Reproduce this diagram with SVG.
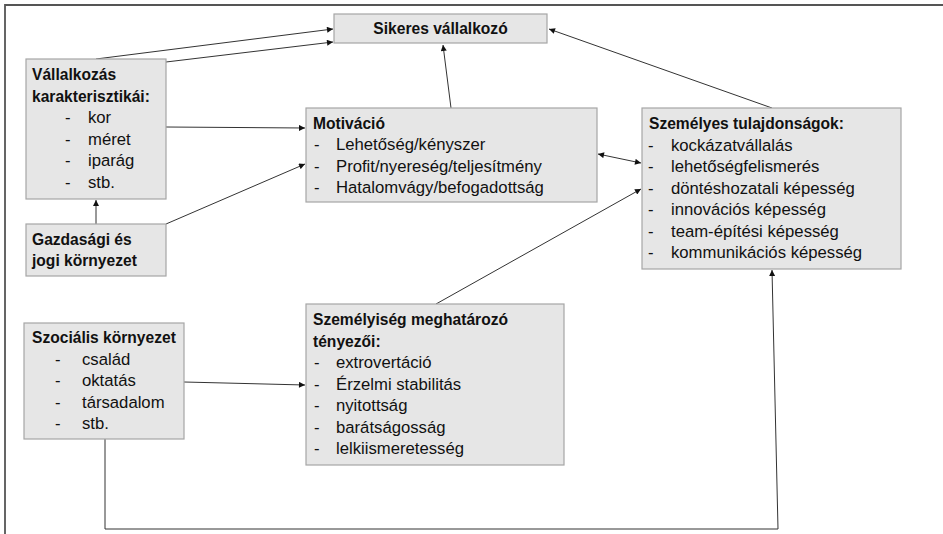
<svg xmlns="http://www.w3.org/2000/svg" width="943" height="534" viewBox="0 0 943 534">
<style>
.box{fill:#e6e6e6;stroke:#a6a6a6;stroke-width:1.2}
text{font-family:"Liberation Sans",Arial,sans-serif;fill:#111}
.h{font-weight:bold;font-size:15.6px}
.t{font-size:16.7px}
.c{fill:none;stroke:#333;stroke-width:1}
</style>
<defs>
<marker id="ar" viewBox="0 0 10 10" refX="10" refY="5" markerWidth="7" markerHeight="6" orient="auto" markerUnits="userSpaceOnUse">
<path d="M0,0 L10,5 L0,10 z" fill="#111"/>
</marker>
<marker id="as" viewBox="0 0 10 10" refX="0" refY="5" markerWidth="7" markerHeight="6" orient="auto" markerUnits="userSpaceOnUse">
<path d="M10,0 L0,5 L10,10 z" fill="#111"/>
</marker>
</defs>
<rect width="943" height="534" fill="#fff"/>
<path d="M5,534 V5 H943" fill="none" stroke="#555" stroke-width="1.8"/>

<g id="connectors">
<line class="c" x1="96" y1="59" x2="333" y2="29" marker-end="url(#ar)"/>
<line class="c" x1="166" y1="62" x2="333" y2="42" marker-end="url(#ar)"/>
<line class="c" x1="166" y1="127" x2="305" y2="128" marker-end="url(#ar)"/>
<line class="c" x1="166" y1="224" x2="305" y2="164" marker-end="url(#ar)"/>
<line class="c" x1="96" y1="224" x2="96" y2="200" marker-end="url(#ar)"/>
<line class="c" x1="451" y1="108" x2="443" y2="45" marker-end="url(#ar)"/>
<line class="c" x1="772" y1="108" x2="549" y2="29" marker-end="url(#ar)"/>
<line class="c" x1="598" y1="154" x2="641" y2="163" marker-start="url(#as)" marker-end="url(#ar)"/>
<line class="c" x1="436" y1="304" x2="641" y2="189" marker-end="url(#ar)"/>
<line class="c" x1="184" y1="382" x2="305" y2="385" marker-end="url(#ar)"/>
<polyline class="c" points="105,439 105,529 778,529 772,270" marker-end="url(#ar)"/>
</g>

<g id="sikeres">
<rect class="box" x="334" y="14" width="213" height="29"/>
<text class="h" x="440.5" y="34" text-anchor="middle">Sikeres vállalkozó</text>
</g>

<g id="vallalkozas">
<rect class="box" x="26" y="59" width="140" height="140"/>
<text class="h" x="32" y="80">Vállalkozás</text>
<text class="h" x="32" y="102">karakterisztikái:</text>
<text class="t" x="65" y="123">-</text><text class="t" x="88" y="123">kor</text>
<text class="t" x="65" y="145">-</text><text class="t" x="88" y="145">méret</text>
<text class="t" x="65" y="166">-</text><text class="t" x="88" y="166">iparág</text>
<text class="t" x="65" y="188">-</text><text class="t" x="88" y="188">stb.</text>
</g>

<g id="gazdasagi">
<rect class="box" x="26" y="224" width="140" height="52"/>
<text class="h" x="32" y="245">Gazdasági és</text>
<text class="h" x="32" y="266">jogi környezet</text>
</g>

<g id="motivacio">
<rect class="box" x="306" y="108" width="291" height="94"/>
<text class="h" x="313" y="129">Motiváció</text>
<text class="t" x="314" y="150">-</text><text class="t" x="336" y="150">Lehetőség/kényszer</text>
<text class="t" x="314" y="172">-</text><text class="t" x="336" y="172">Profit/nyereség/teljesítmény</text>
<text class="t" x="314" y="193">-</text><text class="t" x="336" y="193">Hatalomvágy/befogadottság</text>
</g>

<g id="szemelyes">
<rect class="box" x="642" y="108" width="259" height="161"/>
<text class="h" x="649" y="129">Személyes tulajdonságok:</text>
<text class="t" x="648" y="151">-</text><text class="t" x="671" y="151">kockázatvállalás</text>
<text class="t" x="648" y="172">-</text><text class="t" x="671" y="172">lehetőségfelismerés</text>
<text class="t" x="648" y="194">-</text><text class="t" x="671" y="194">döntéshozatali képesség</text>
<text class="t" x="648" y="215">-</text><text class="t" x="671" y="215">innovációs képesség</text>
<text class="t" x="648" y="237">-</text><text class="t" x="671" y="237">team-építési képesség</text>
<text class="t" x="648" y="258">-</text><text class="t" x="671" y="258">kommunikációs képesség</text>
</g>

<g id="szocialis">
<rect class="box" x="24" y="323" width="160" height="116"/>
<text class="h" x="32" y="343">Szociális környezet</text>
<text class="t" x="55" y="365">-</text><text class="t" x="82" y="365">család</text>
<text class="t" x="55" y="386">-</text><text class="t" x="82" y="386">oktatás</text>
<text class="t" x="55" y="408">-</text><text class="t" x="82" y="408">társadalom</text>
<text class="t" x="55" y="429">-</text><text class="t" x="82" y="429">stb.</text>
</g>

<g id="szemelyiseg">
<rect class="box" x="306" y="304" width="258" height="161"/>
<text class="h" x="313" y="325">Személyiség meghatározó</text>
<text class="h" x="313" y="347">tényezői:</text>
<text class="t" x="314" y="368">-</text><text class="t" x="336" y="368">extrovertáció</text>
<text class="t" x="314" y="390">-</text><text class="t" x="336" y="390">Érzelmi stabilitás</text>
<text class="t" x="314" y="411">-</text><text class="t" x="336" y="411">nyitottság</text>
<text class="t" x="314" y="433">-</text><text class="t" x="336" y="433">barátságosság</text>
<text class="t" x="314" y="454">-</text><text class="t" x="336" y="454">lelkiismeretesség</text>
</g>
</svg>
